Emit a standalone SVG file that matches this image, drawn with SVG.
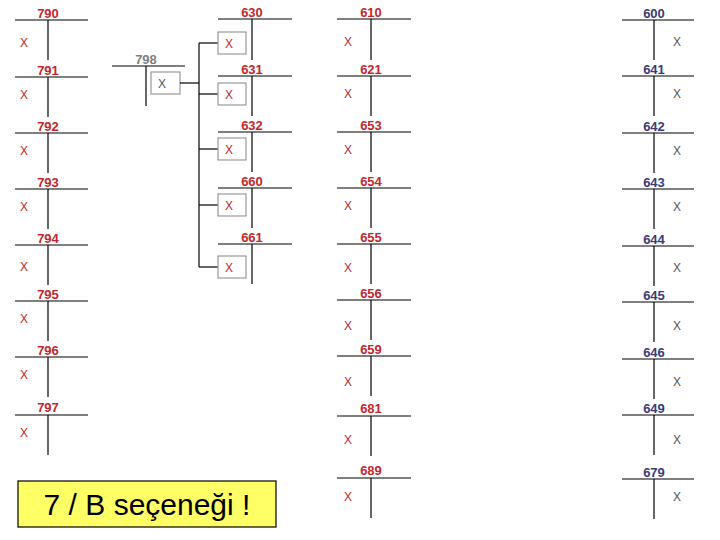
<svg xmlns="http://www.w3.org/2000/svg" width="720" height="540" viewBox="0 0 720 540">
<style>
line{stroke:#000;stroke-width:1.2}
.n{font:bold 13px "Liberation Sans",Arial,sans-serif;fill:#c0282d;text-anchor:middle}
.b{fill:#3a3a7a}
.g{fill:#808080}
.x{font:12px "Liberation Sans",Arial,sans-serif;fill:#c0282d;text-anchor:middle}
.xb{fill:#555}
.bx{fill:#fff;stroke:#999;stroke-width:1.2}
</style>
<rect width="720" height="540" fill="#fff"/>
<g id="col790">
<g id="a790"><line x1="15" y1="20" x2="88" y2="20"/><line x1="48" y1="20" x2="48" y2="60"/><text class="n" x="48" y="18">790</text><text class="x" x="24" y="47">X</text></g>
<g id="a791"><line x1="15" y1="77" x2="88" y2="77"/><line x1="48" y1="77" x2="48" y2="117"/><text class="n" x="48" y="75">791</text><text class="x" x="24" y="99">X</text></g>
<g id="a792"><line x1="15" y1="133" x2="88" y2="133"/><line x1="48" y1="133" x2="48" y2="173"/><text class="n" x="48" y="131">792</text><text class="x" x="24" y="155">X</text></g>
<g id="a793"><line x1="15" y1="189" x2="88" y2="189"/><line x1="48" y1="189" x2="48" y2="229"/><text class="n" x="48" y="187">793</text><text class="x" x="24" y="211">X</text></g>
<g id="a794"><line x1="15" y1="245" x2="88" y2="245"/><line x1="48" y1="245" x2="48" y2="285"/><text class="n" x="48" y="243">794</text><text class="x" x="24" y="271">X</text></g>
<g id="a795"><line x1="15" y1="301" x2="88" y2="301"/><line x1="48" y1="301" x2="48" y2="341"/><text class="n" x="48" y="299">795</text><text class="x" x="24" y="323">X</text></g>
<g id="a796"><line x1="15" y1="357" x2="88" y2="357"/><line x1="48" y1="357" x2="48" y2="397"/><text class="n" x="48" y="355">796</text><text class="x" x="24" y="379">X</text></g>
<g id="a797"><line x1="15" y1="415" x2="88" y2="415"/><line x1="48" y1="415" x2="48" y2="455"/><text class="n" x="48" y="412">797</text><text class="x" x="24" y="437">X</text></g>
</g>
<g id="a798"><line x1="112" y1="66" x2="185" y2="66"/><line x1="146" y1="66" x2="146" y2="106"/><text class="n g" x="146" y="64">798</text><rect class="bx" x="151" y="72" width="29" height="22"/><text class="x xb g" x="162" y="88">X</text></g>
<g id="connectors">
<line x1="180" y1="83" x2="199" y2="83"/><line x1="199" y1="43" x2="199" y2="267"/>
<line x1="199" y1="43" x2="218" y2="43"/><line x1="199" y1="94" x2="218" y2="94"/><line x1="199" y1="149" x2="218" y2="149"/><line x1="199" y1="205" x2="218" y2="205"/><line x1="199" y1="267" x2="218" y2="267"/>
</g>
<g id="col630">
<g id="a630"><line x1="218" y1="19" x2="292" y2="19"/><line x1="252" y1="19" x2="252" y2="60"/><text class="n" x="252" y="17">630</text><rect class="bx" x="218" y="32" width="28" height="22"/><text class="x" x="229" y="48">X</text></g>
<g id="a631"><line x1="218" y1="76" x2="292" y2="76"/><line x1="252" y1="76" x2="252" y2="116"/><text class="n" x="252" y="74">631</text><rect class="bx" x="218" y="83" width="28" height="22"/><text class="x" x="229" y="99">X</text></g>
<g id="a632"><line x1="218" y1="132" x2="292" y2="132"/><line x1="252" y1="132" x2="252" y2="172"/><text class="n" x="252" y="130">632</text><rect class="bx" x="218" y="138" width="28" height="22"/><text class="x" x="229" y="154">X</text></g>
<g id="a660"><line x1="218" y1="188" x2="292" y2="188"/><line x1="252" y1="188" x2="252" y2="228"/><text class="n" x="252" y="186">660</text><rect class="bx" x="218" y="194" width="28" height="22"/><text class="x" x="229" y="210">X</text></g>
<g id="a661"><line x1="218" y1="244" x2="292" y2="244"/><line x1="252" y1="244" x2="252" y2="284"/><text class="n" x="252" y="242">661</text><rect class="bx" x="218" y="256" width="28" height="22"/><text class="x" x="229" y="272">X</text></g>
</g>
<g id="col610">
<g id="a610"><line x1="337" y1="19" x2="411" y2="19"/><line x1="371" y1="19" x2="371" y2="60"/><text class="n" x="371" y="17">610</text><text class="x" x="348" y="46">X</text></g>
<g id="a621"><line x1="337" y1="76" x2="411" y2="76"/><line x1="371" y1="76" x2="371" y2="116"/><text class="n" x="371" y="74">621</text><text class="x" x="348" y="98">X</text></g>
<g id="a653"><line x1="337" y1="132" x2="411" y2="132"/><line x1="371" y1="132" x2="371" y2="172"/><text class="n" x="371" y="130">653</text><text class="x" x="348" y="154">X</text></g>
<g id="a654"><line x1="337" y1="188" x2="411" y2="188"/><line x1="371" y1="188" x2="371" y2="228"/><text class="n" x="371" y="186">654</text><text class="x" x="348" y="210">X</text></g>
<g id="a655"><line x1="337" y1="244" x2="411" y2="244"/><line x1="371" y1="244" x2="371" y2="284"/><text class="n" x="371" y="242">655</text><text class="x" x="348" y="272">X</text></g>
<g id="a656"><line x1="337" y1="300" x2="411" y2="300"/><line x1="371" y1="300" x2="371" y2="340"/><text class="n" x="371" y="298">656</text><text class="x" x="348" y="330">X</text></g>
<g id="a659"><line x1="337" y1="356" x2="411" y2="356"/><line x1="371" y1="356" x2="371" y2="396"/><text class="n" x="371" y="354">659</text><text class="x" x="348" y="386">X</text></g>
<g id="a681"><line x1="337" y1="416" x2="411" y2="416"/><line x1="371" y1="416" x2="371" y2="456"/><text class="n" x="371" y="413">681</text><text class="x" x="348" y="444">X</text></g>
<g id="a689"><line x1="337" y1="478" x2="411" y2="478"/><line x1="371" y1="478" x2="371" y2="518"/><text class="n" x="371" y="475">689</text><text class="x" x="348" y="501">X</text></g>
</g>
<g id="col600">
<g id="a600"><line x1="622" y1="20" x2="694" y2="20"/><line x1="654" y1="20" x2="654" y2="60"/><text class="n b" x="654" y="18">600</text><text class="x xb" x="677" y="46">X</text></g>
<g id="a641"><line x1="622" y1="76" x2="694" y2="76"/><line x1="654" y1="76" x2="654" y2="116"/><text class="n b" x="654" y="74">641</text><text class="x xb" x="677" y="98">X</text></g>
<g id="a642"><line x1="622" y1="133" x2="694" y2="133"/><line x1="654" y1="133" x2="654" y2="173"/><text class="n b" x="654" y="131">642</text><text class="x xb" x="677" y="155">X</text></g>
<g id="a643"><line x1="622" y1="189" x2="694" y2="189"/><line x1="654" y1="189" x2="654" y2="229"/><text class="n b" x="654" y="187">643</text><text class="x xb" x="677" y="211">X</text></g>
<g id="a644"><line x1="622" y1="246" x2="694" y2="246"/><line x1="654" y1="246" x2="654" y2="286"/><text class="n b" x="654" y="244">644</text><text class="x xb" x="677" y="272">X</text></g>
<g id="a645"><line x1="622" y1="302" x2="694" y2="302"/><line x1="654" y1="302" x2="654" y2="342"/><text class="n b" x="654" y="300">645</text><text class="x xb" x="677" y="330">X</text></g>
<g id="a646"><line x1="622" y1="359" x2="694" y2="359"/><line x1="654" y1="359" x2="654" y2="399"/><text class="n b" x="654" y="357">646</text><text class="x xb" x="677" y="386">X</text></g>
<g id="a649"><line x1="622" y1="415" x2="694" y2="415"/><line x1="654" y1="415" x2="654" y2="455"/><text class="n b" x="654" y="413">649</text><text class="x xb" x="677" y="444">X</text></g>
<g id="a679"><line x1="622" y1="479" x2="694" y2="479"/><line x1="654" y1="479" x2="654" y2="519"/><text class="n b" x="654" y="477">679</text><text class="x xb" x="677" y="501">X</text></g>
</g>
<g id="note"><rect x="18" y="481" width="258" height="46" fill="#ffff66" stroke="#000" stroke-width="1.2"/><text x="147" y="515" font-family="Liberation Sans,Arial,sans-serif" font-size="30" text-anchor="middle" fill="#000">7 / B seçeneği !</text></g>
</svg>
